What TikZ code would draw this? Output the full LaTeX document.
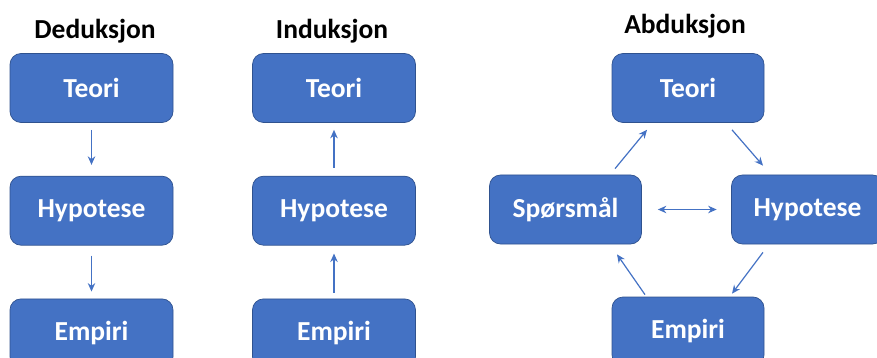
\documentclass[tikz,border=0pt]{standalone}
\usepackage{fontspec}
\setmainfont{Carlito}
\usetikzlibrary{positioning,arrows.meta}
\definecolor{boxblue}{RGB}{68,114,196}
\definecolor{boxline}{RGB}{47,82,143}

\begin{document}
\begin{tikzpicture}[node distance={53pt}, x=1pt, y=1pt,
    main/.style = {draw=boxline, line width=0.7pt, fill=boxblue, rounded corners=11pt,
        minimum width=163pt, minimum height=69pt, inner sep=0pt, text=white,
        font=\bfseries\fontsize{27.5}{30}\selectfont},
    smal/.style = {main, minimum width=152pt},
    title/.style = {font=\bfseries\fontsize{27.5}{30}\selectfont, inner sep=0pt},
    pil/.style = {draw=boxblue, line width=1.2pt, -{Stealth[length=8.5pt,width=7.5pt]}}]
    \useasboundingbox (0,0) rectangle (877,-358);
    % Deduksjon
    \node[title] (d) at (95,-31) {Deduksjon};
    \node[main] (t1) at (91.5,-88) {Teori};
    \node[main] (h1) [below=of t1] {Hypotese};
    \node[main] (e1) [below=of h1] {Empiri};
    \draw[pil, shorten <=7pt, shorten >=11pt] (t1) -- (h1);
    \draw[pil, shorten <=10pt, shorten >=7pt] (h1) -- (e1);
    % Induksjon
    \node[title] (i) at (332,-31) {Induksjon};
    \node[main] (t2) at (334,-88) {Teori};
    \node[main] (h2) [below=of t2] {Hypotese};
    \node[main] (e2) [below=of h2] {Empiri};
    \draw[pil, shorten <=6pt, shorten >=8pt] (e2) -- (h2);
    \draw[pil, shorten <=8pt, shorten >=7pt] (h2) -- (t2);
    % Abduksjon
    \node[title] (a) at (685,-26) {Abduksjon};
    \node[smal] (t3) at (688,-88) {Teori};
    \node[smal] (s3) at (565.5,-209.5) {Spørsmål};
    \node[smal] (h3) at (807.5,-209.5) {Hypotese};
    \node[smal] (e3) at (688,-331.5) {Empiri};
    \draw[pil] ([xshift=49.5pt,yshift=6pt]s3.north) -- ([xshift=-41pt,yshift=-7pt]t3.south);
    \draw[pil] ([xshift=44pt,yshift=-7pt]t3.south) -- ([xshift=-44.5pt,yshift=9pt]h3.north);
    \draw[pil] ([xshift=-44.5pt,yshift=-8pt]h3.south) -- ([xshift=44pt,yshift=3pt]e3.north);
    \draw[pil] ([xshift=-43pt,yshift=2pt]e3.north) -- ([xshift=51.5pt,yshift=-10pt]s3.south);
    \draw[pil, {Stealth[length=8.5pt,width=7.5pt]}-{Stealth[length=8.5pt,width=7.5pt]},
        shorten <=16pt, shorten >=14.5pt] (s3) -- (h3);
\end{tikzpicture}
\end{document}
